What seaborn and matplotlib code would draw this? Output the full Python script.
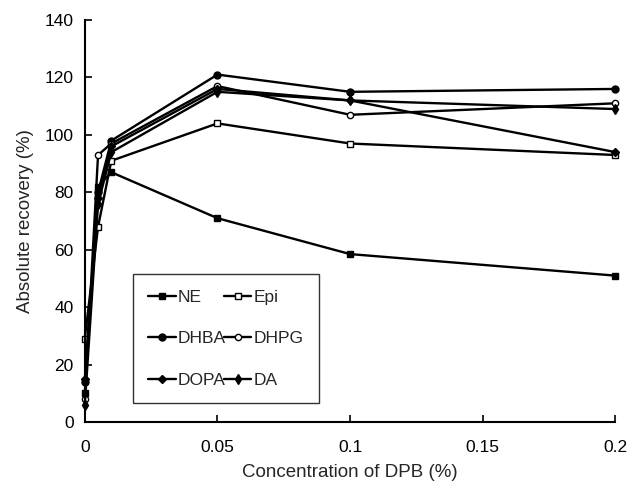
import matplotlib
matplotlib.use("Agg")
import matplotlib.pyplot as plt
import seaborn as sns
import pandas as pd

# concentration of DPB (%)
conc = [0, 0.005, 0.01, 0.05, 0.1, 0.2]

# absolute recovery (%)
ne   = [10, 82, 87, 71, 58.5, 51]
epi  = [29, 68, 91, 104, 97, 93]
dhba = [14, 80, 98, 121, 115, 116]
dhpg = [8, 93, 97, 117, 107, 111]
dopa = [15, 78, 96, 116, 112, 94]
da   = [6, 76, 94, 115, 112, 109]

series = {"NE": ne, "Epi": epi, "DHBA": dhba, "DHPG": dhpg, "DOPA": dopa, "DA": da}
styles = {
    "NE":   dict(marker="s", markersize=5, markerfacecolor="black"),
    "Epi":  dict(marker="s", markersize=5, markerfacecolor="white"),
    "DHBA": dict(marker="o", markersize=5, markerfacecolor="black"),
    "DHPG": dict(marker="o", markersize=4.5, markerfacecolor="white"),
    "DOPA": dict(marker="D", markersize=4.5, markerfacecolor="black"),
    "DA":   dict(marker="d", markersize=5, markerfacecolor="black"),
}

rows = []
for name, vals in series.items():
    for c, v in zip(conc, vals):
        rows.append({"compound": name, "conc": c, "recovery": v})
df = pd.DataFrame(rows)

sns.set_style("ticks")
plt.rcParams["font.family"] = ["Liberation Sans", "DejaVu Sans"]

fig = plt.figure(figsize=(6.28, 4.88), dpi=100)
ax = fig.add_axes([0.135, 0.135, 0.845, 0.824])

for name in series:
    sub = df[df["compound"] == name]
    sns.lineplot(data=sub, x="conc", y="recovery", ax=ax, color="black",
                 linewidth=1.7, markeredgecolor="black", markeredgewidth=1.0,
                 label=name, clip_on=False, **styles[name])

ax.set_xlim(0, 0.2)
ax.set_ylim(0, 140)
ax.set_xticks([0, 0.05, 0.1, 0.15, 0.2])
ax.set_xticklabels(["0", "0.05", "0.1", "0.15", "0.2"])
ax.set_yticks(range(0, 141, 20))
ax.tick_params(direction="in", length=5, width=1.2, labelsize=12.5, colors="black", pad=8)
ax.tick_params(axis="x", pad=13)
for s in ["left", "bottom"]:
    ax.spines[s].set_linewidth(1.5)
    ax.spines[s].set_color("black")
sns.despine(ax=ax)
ax.set_xlabel("Concentration of DPB (%)", fontsize=13.5, labelpad=6)
ax.set_ylabel("Absolute recovery (%)", fontsize=13.5, labelpad=8)

handles, labels = ax.get_legend_handles_labels()
order = ["NE", "DHBA", "DOPA", "Epi", "DHPG", "DA"]
h = [handles[labels.index(o)] for o in order]
leg = ax.legend(h, order, ncol=2, loc="lower left",
                bbox_to_anchor=(0.09, 0.047, 0.351, 0.343), mode="expand",
                frameon=True, fancybox=False, edgecolor="black", fontsize=12.5,
                handlelength=1.6, handletextpad=0.1, labelspacing=1.5,
                columnspacing=0.8, borderaxespad=0, borderpad=0.9)
leg.get_frame().set_linewidth(1.0)

fig.savefig("out.png", dpi=100)
